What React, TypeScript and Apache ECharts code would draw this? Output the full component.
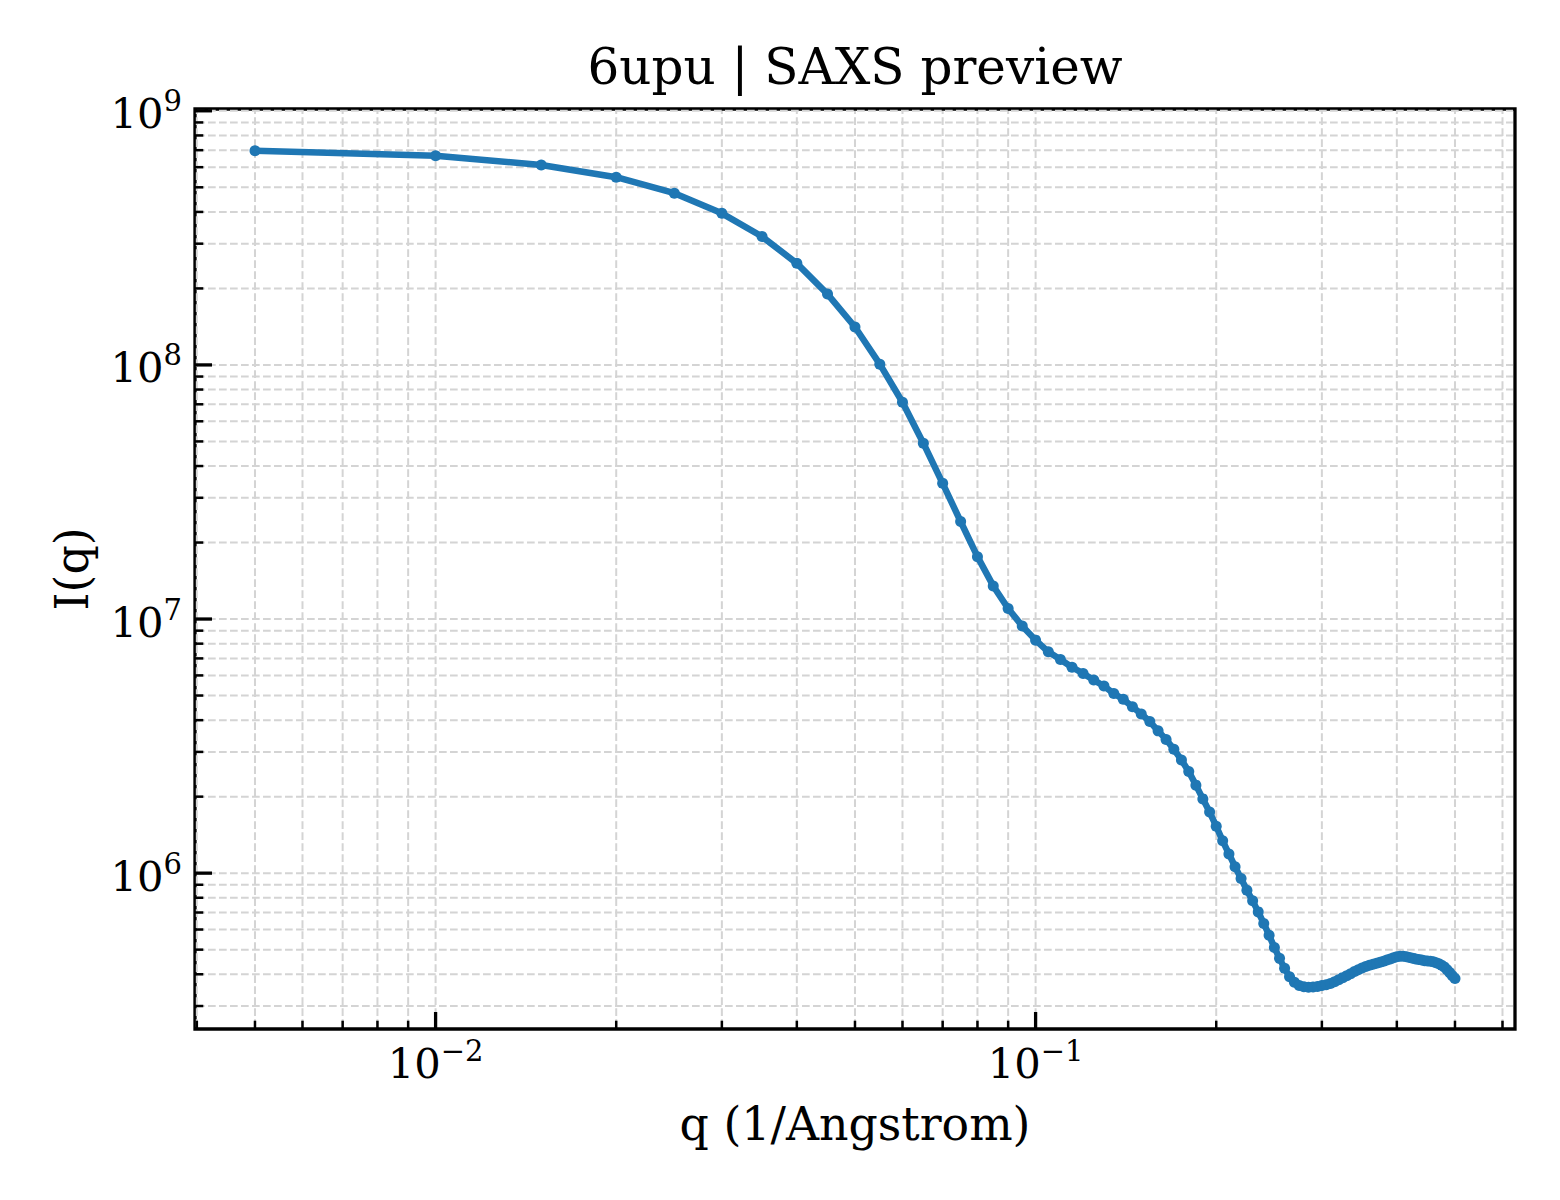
import React, { useEffect, useRef } from "react";
import * as echarts from "echarts";

// q (1/Angstrom) and I(q)
const Q = [
  0.005, 0.01, 0.015, 0.02, 0.025, 0.03, 0.035, 0.04, 0.045, 0.05,
  0.055, 0.06, 0.065, 0.07, 0.075, 0.08, 0.085, 0.09, 0.095, 0.1,
  0.105, 0.11, 0.115, 0.12, 0.125, 0.13, 0.135, 0.14, 0.145, 0.15,
  0.155, 0.16, 0.165, 0.17, 0.175, 0.18, 0.185, 0.19, 0.195, 0.2,
  0.205, 0.21, 0.215, 0.22, 0.225, 0.23, 0.235, 0.24, 0.245, 0.25,
  0.255, 0.26, 0.265, 0.27, 0.275, 0.28, 0.285, 0.29, 0.295, 0.3,
  0.305, 0.31, 0.315, 0.32, 0.325, 0.33, 0.335, 0.34, 0.345, 0.35,
  0.355, 0.36, 0.365, 0.37, 0.375, 0.38, 0.385, 0.39, 0.395, 0.4,
  0.405, 0.41, 0.415, 0.42, 0.425, 0.43, 0.435, 0.44, 0.445, 0.45,
  0.455, 0.46, 0.465, 0.47, 0.475, 0.48, 0.485, 0.49, 0.495, 0.5,
];

const INTENSITY = [
  6.96e8, 6.65e8, 6.12e8, 5.48e8, 4.74e8, 3.95e8, 3.2e8, 2.51e8, 1.9e8, 1.41e8,
  1.007e8, 7.13e7, 4.92e7, 3.42e7, 2.42e7, 1.76e7, 1.35e7, 1.1e7, 9.38e6, 8.26e6,
  7.43e6, 6.93e6, 6.46e6, 6.11e6, 5.75e6, 5.45e6, 5.09e6, 4.83e6, 4.52e6, 4.23e6,
  3.95e6, 3.63e6, 3.36e6, 3.07e6, 2.79e6, 2.51e6, 2.22e6, 1.96e6, 1.74e6, 1.53e6,
  1.34e6, 1.19e6, 1.06e6, 9.53e5, 8.57e5, 7.78e5, 7.04e5, 6.34e5, 5.7e5, 5.1e5,
  4.62e5, 4.22e5, 3.91e5, 3.72e5, 3.61e5, 3.57e5, 3.56e5, 3.565e5, 3.58e5, 3.61e5,
  3.64e5, 3.68e5, 3.74e5, 3.81e5, 3.88e5, 3.95e5, 4.02e5, 4.1e5, 4.17e5, 4.23e5,
  4.29e5, 4.34e5, 4.38e5, 4.42e5, 4.46e5, 4.5e5, 4.55e5, 4.59e5, 4.65e5, 4.69e5,
  4.71e5, 4.71e5, 4.69e5, 4.66e5, 4.63e5, 4.59e5, 4.57e5, 4.55e5, 4.52e5, 4.51e5,
  4.5e5, 4.48e5, 4.44e5, 4.4e5, 4.34e5, 4.27e5, 4.17e5, 4.06e5, 3.95e5, 3.85e5,
];

// axis limits (matplotlib's 5% log margins)
const X_MIN = 0.003972;
const X_MAX = 0.6295;
const Y_MIN = 2.436e5;
const Y_MAX = 1.0165e9;

// tick positions
const X_MAJOR = [0.01, 0.1];
const X_MINOR = [
  0.004, 0.005, 0.006, 0.007, 0.008, 0.009,
  0.02, 0.03, 0.04, 0.05, 0.06, 0.07, 0.08, 0.09,
  0.2, 0.3, 0.4, 0.5, 0.6,
];
const Y_MAJOR = [1e6, 1e7, 1e8, 1e9];
const Y_MINOR = [
  3e5, 4e5, 5e5, 6e5, 7e5, 8e5, 9e5,
  2e6, 3e6, 4e6, 5e6, 6e6, 7e6, 8e6, 9e6,
  2e7, 3e7, 4e7, 5e7, 6e7, 7e7, 8e7, 9e7,
  2e8, 3e8, 4e8, 5e8, 6e8, 7e8, 8e8, 9e8,
];

const FONT = "DejaVu Serif";
const BLUE = "#1f77b4";

// "10^n" as rich text, exponent raised and smaller
function powLabel(v: number): string {
  const e = Math.log10(v);
  const r = Math.round(e);
  if (Math.abs(e - r) > 1e-6) return "";
  return "{b|10}{s|" + String(r).replace("-", "\u2212") + "}";
}

const labelRich = {
  b: { fontFamily: FONT, fontSize: 41.7, lineHeight: 48, verticalAlign: "bottom", color: "#000" },
  s: { fontFamily: FONT, fontSize: 29, lineHeight: 29, verticalAlign: "top", color: "#000" },
};

type Tick = { axis: "x" | "y"; major: boolean; v: number };
const ticks: Tick[] = [
  ...X_MAJOR.map((v) => ({ axis: "x" as const, major: true, v })),
  ...X_MINOR.map((v) => ({ axis: "x" as const, major: false, v })),
  ...Y_MAJOR.map((v) => ({ axis: "y" as const, major: true, v })),
  ...Y_MINOR.map((v) => ({ axis: "y" as const, major: false, v })),
];

const App: React.FC = () => {
  const chartRef = useRef<HTMLDivElement>(null);

  useEffect(() => {
    if (!chartRef.current) return;
    const chart = echarts.init(chartRef.current, undefined, { renderer: "svg" });

    const gridStyle = { stroke: "#d4d4d4", lineWidth: 2, lineDash: [7.7, 3.3] };

    const option: any = {
      animation: false,
      backgroundColor: "#fff",
      title: {
        text: "6upu | SAXS preview",
        left: 855,
        top: 42,
        padding: 0,
        textAlign: "center",
        textStyle: { fontFamily: FONT, fontSize: 50, fontWeight: "normal", color: "#000" },
      },
      grid: {
        left: 195,
        top: 109,
        width: 1320,
        height: 920,
        show: true,
        borderColor: "#000",
        borderWidth: 3.3,
      },
      xAxis: {
        type: "log",
        logBase: 10,
        min: X_MIN,
        max: X_MAX,
        name: "q (1/Angstrom)",
        nameLocation: "middle",
        nameGap: 72,
        nameTextStyle: { fontFamily: FONT, fontSize: 45.8, color: "#000" },
        axisLine: { show: false },
        axisTick: { show: false },
        splitLine: { show: false },
        axisLabel: {
          formatter: (v: number) => powLabel(v),
          rich: labelRich,
          margin: 7,
        },
      },
      yAxis: {
        type: "log",
        logBase: 10,
        min: Y_MIN,
        max: Y_MAX,
        name: "I(q)",
        nameLocation: "middle",
        nameGap: 100,
        nameTextStyle: { fontFamily: FONT, fontSize: 45.8, color: "#000" },
        axisLine: { show: false },
        axisTick: { show: false },
        splitLine: { show: false },
        axisLabel: {
          formatter: (v: number) => powLabel(v),
          rich: labelRich,
          margin: 13,
        },
      },
      series: [
        {
          type: "custom",
          silent: true,
          z: 1,
          clip: false,
          data: ticks.map((t) => (t.axis === "x" ? [t.v, 1e7] : [0.1, t.v])),
          renderItem: (params: any, api: any) => {
            const t = ticks[params.dataIndex];
            const cs = params.coordSys;
            const p = api.coord([api.value(0), api.value(1)]);
            const len = t.major ? 17 : 8.3;
            const tickStyle = { stroke: "#000", lineWidth: t.major ? 3.3 : 2.5 };
            if (t.axis === "x") {
              const x = p[0];
              const bottom = cs.y + cs.height;
              return {
                type: "group",
                children: [
                  { type: "line", shape: { x1: x, y1: bottom - 2, x2: x, y2: cs.y + 2 }, style: gridStyle },
                  { type: "line", shape: { x1: x, y1: bottom, x2: x, y2: bottom - len }, style: tickStyle },
                ],
              };
            }
            const y = p[1];
            return {
              type: "group",
              children: [
                { type: "line", shape: { x1: cs.x + 2, y1: y, x2: cs.x + cs.width - 2, y2: y }, style: gridStyle },
                { type: "line", shape: { x1: cs.x, y1: y, x2: cs.x + len, y2: y }, style: tickStyle },
              ],
            };
          },
        },
        {
          type: "line",
          name: "I(q)",
          z: 3,
          silent: true,
          data: Q.map((q, i) => [q, INTENSITY[i]]),
          symbol: "circle",
          symbolSize: 11,
          showAllSymbol: true,
          lineStyle: { color: BLUE, width: 6.5 },
          itemStyle: { color: BLUE },
        },
      ],
    };

    chart.setOption(option);

    return () => {
      chart.dispose();
    };
  }, []);

  return (
    <div
      ref={chartRef}
      style={{ position: "absolute", left: 0, top: 0, width: 1560, height: 1200, background: "#fff" }}
    />
  );
};

export default App;
